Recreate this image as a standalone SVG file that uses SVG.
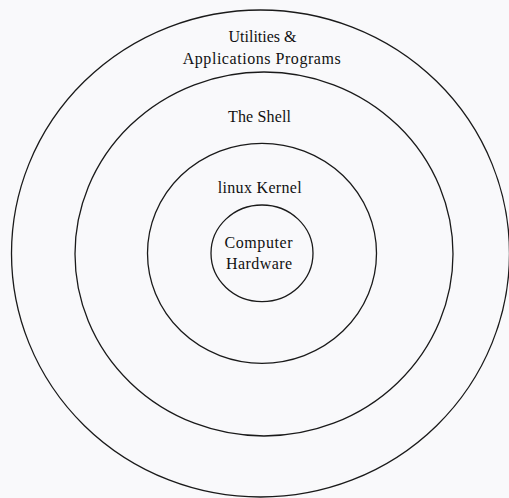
<svg xmlns="http://www.w3.org/2000/svg" width="509" height="498" viewBox="0 0 509 498">
<style>
.ring{fill:none;stroke:#1a1a1a;stroke-width:1.3}
.t{font-family:"Liberation Serif","Times New Roman",serif;font-size:16px;fill:#111;text-anchor:middle}
</style>
<rect width="509" height="498" fill="#f9f9fb"/>
<g id="utilities">
<ellipse class="ring" cx="260.5" cy="253.5" rx="249" ry="243.5"/>
<text class="t" x="262.5" y="42" textLength="68" lengthAdjust="spacing">Utilities &amp;</text>
<text class="t" x="261.7" y="63.5" textLength="158" lengthAdjust="spacing">Applications Programs</text>
</g>
<g id="shell">
<ellipse class="ring" cx="264" cy="254" rx="189" ry="182"/>
<text class="t" x="259.5" y="121.7" textLength="63" lengthAdjust="spacing">The Shell</text>
</g>
<g id="kernel">
<ellipse class="ring" cx="262" cy="253.3" rx="114.5" ry="110"/>
<text class="t" x="259.7" y="193.3" textLength="84" lengthAdjust="spacing">linux Kernel</text>
</g>
<g id="hardware">
<ellipse class="ring" cx="262" cy="253.3" rx="51" ry="48.3"/>
<text class="t" x="258.5" y="248" textLength="68" lengthAdjust="spacing">Computer</text>
<text class="t" x="259" y="269" textLength="66" lengthAdjust="spacing">Hardware</text>
</g>
<g id="connectors"/>
</svg>
